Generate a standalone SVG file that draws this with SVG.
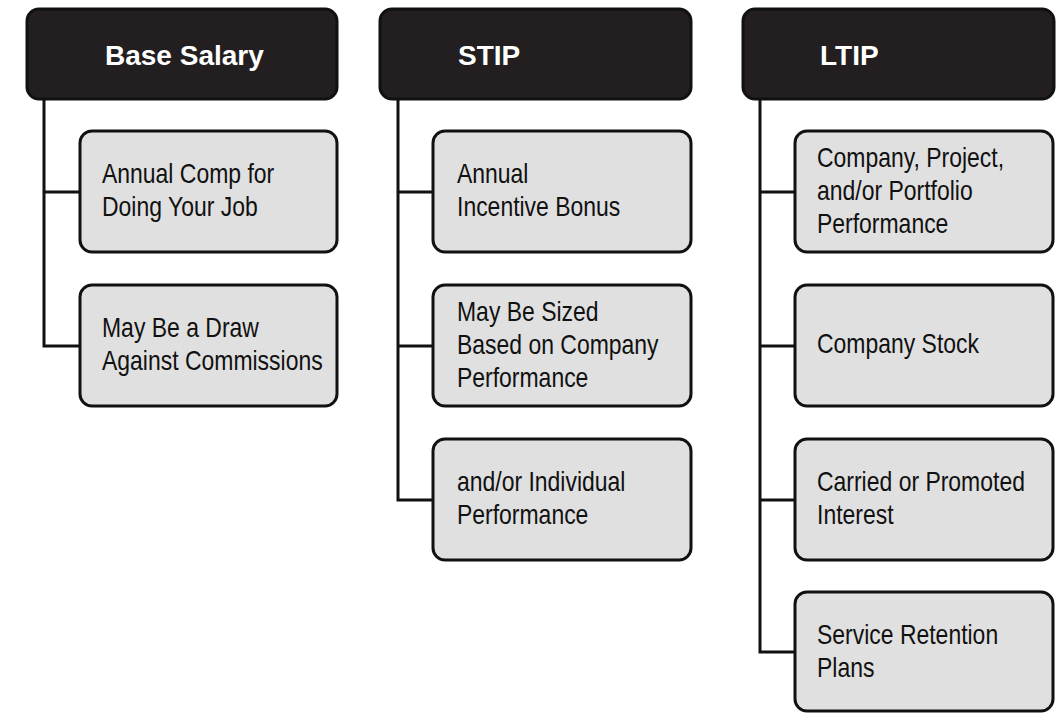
<svg xmlns="http://www.w3.org/2000/svg" width="1061" height="713" viewBox="0 0 1061 713">
  <style>
    .head rect { fill: #231f20; stroke: #111; stroke-width: 3; }
    .head text { fill: #ffffff; font-family: "Liberation Sans", Arial, sans-serif; font-weight: bold; font-size: 28px; }
    .item rect { fill: #e0e0e0; stroke: #111; stroke-width: 3; }
    .item text { fill: #111; font-family: "Liberation Sans", Arial, sans-serif; font-size: 28px; }
    .links path { fill: none; stroke: #111; stroke-width: 3; }
  </style>
  <rect width="1061" height="713" fill="#ffffff"/>

  <!-- connectors -->
  <g class="links" id="connectors">
    <path d="M44 100 V346 H80 M44 192 H80"/>
    <path d="M398 100 V500 H433 M398 192 H433 M398 346 H433"/>
    <path d="M760 100 V652 H795 M760 192 H795 M760 346 H795 M760 500 H795"/>
  </g>

  <!-- column headers -->
  <g class="head" id="base-salary">
    <rect x="27" y="9" width="310" height="90" rx="12"/>
    <text x="105" y="65">Base Salary</text>
  </g>
  <g class="head" id="stip">
    <rect x="380" y="9" width="311" height="90" rx="12"/>
    <text x="458" y="65">STIP</text>
  </g>
  <g class="head" id="ltip">
    <rect x="743" y="9" width="311" height="90" rx="12"/>
    <text x="820" y="65">LTIP</text>
  </g>

  <!-- Base Salary items (labels condensed horizontally) -->
  <g class="item" id="annual-comp">
    <rect x="80" y="131" width="257" height="121" rx="12"/>
    <text transform="translate(102 183) scale(0.82 1)">Annual Comp for</text>
    <text transform="translate(102 216) scale(0.82 1)">Doing Your Job</text>
  </g>
  <g class="item" id="draw-against-commissions">
    <rect x="80" y="285" width="257" height="121" rx="12"/>
    <text transform="translate(102 337) scale(0.82 1)">May Be a Draw</text>
    <text transform="translate(102 370) scale(0.82 1)">Against Commissions</text>
  </g>

  <!-- STIP items -->
  <g class="item" id="annual-incentive">
    <rect x="433" y="131" width="258" height="121" rx="12"/>
    <text transform="translate(457 183) scale(0.82 1)">Annual</text>
    <text transform="translate(457 216) scale(0.82 1)">Incentive Bonus</text>
  </g>
  <g class="item" id="company-performance">
    <rect x="433" y="285" width="258" height="121" rx="12"/>
    <text transform="translate(457 321) scale(0.82 1)">May Be Sized</text>
    <text transform="translate(457 354) scale(0.82 1)">Based on Company</text>
    <text transform="translate(457 387) scale(0.82 1)">Performance</text>
  </g>
  <g class="item" id="individual-performance">
    <rect x="433" y="439" width="258" height="121" rx="12"/>
    <text transform="translate(457 491) scale(0.82 1)">and/or Individual</text>
    <text transform="translate(457 524) scale(0.82 1)">Performance</text>
  </g>

  <!-- LTIP items -->
  <g class="item" id="portfolio-performance">
    <rect x="795" y="131" width="258" height="121" rx="12"/>
    <text transform="translate(817 167) scale(0.82 1)">Company, Project,</text>
    <text transform="translate(817 200) scale(0.82 1)">and/or Portfolio</text>
    <text transform="translate(817 233) scale(0.82 1)">Performance</text>
  </g>
  <g class="item" id="company-stock">
    <rect x="795" y="285" width="258" height="121" rx="12"/>
    <text transform="translate(817 353) scale(0.82 1)">Company Stock</text>
  </g>
  <g class="item" id="carried-interest">
    <rect x="795" y="439" width="258" height="121" rx="12"/>
    <text transform="translate(817 491) scale(0.82 1)">Carried or Promoted</text>
    <text transform="translate(817 524) scale(0.82 1)">Interest</text>
  </g>
  <g class="item" id="service-retention">
    <rect x="795" y="592" width="258" height="119" rx="12"/>
    <text transform="translate(817 644) scale(0.82 1)">Service Retention</text>
    <text transform="translate(817 677) scale(0.82 1)">Plans</text>
  </g>
</svg>
